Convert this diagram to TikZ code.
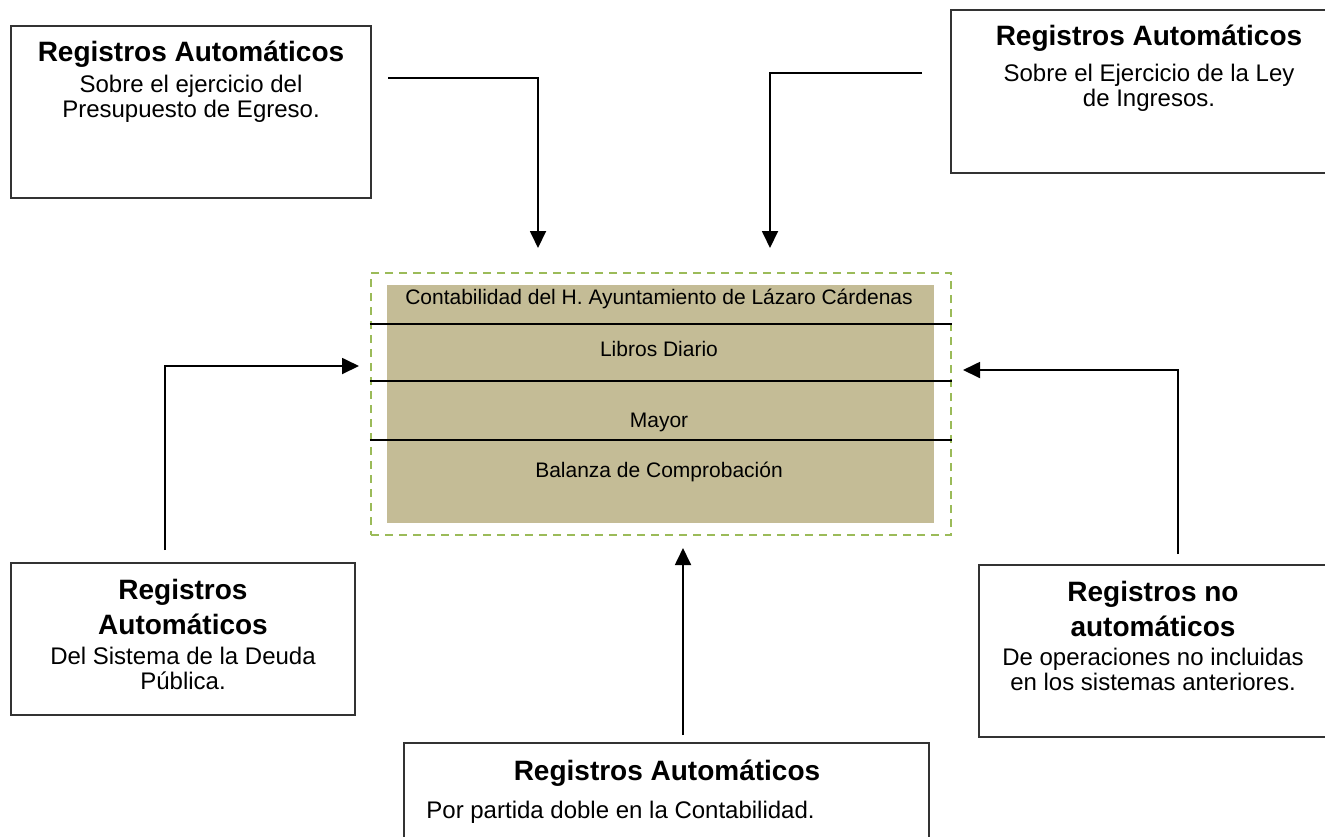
\documentclass[tikz,border=0pt]{standalone}
\usepackage{fontspec}
\setmainfont{Liberation Sans}
\usetikzlibrary{arrows.meta,positioning}
\definecolor{verdeMarco}{HTML}{9BBB59}
\definecolor{tanLibro}{HTML}{C4BC96}
\tikzset{
  caja/.style = {draw = black!80, line width = 0.75pt, inner sep = 0pt},
  texto/.style = {align = center, inner sep = 0pt, anchor = north, font = \fontsize{12}{12.5}\selectfont},
  titulo/.style = {font = \bfseries\fontsize{14}{16}\selectfont},
  interior/.style = {inner sep = 0pt, font = \fontsize{10.5}{12}\selectfont},
  flecha/.style = {line width = 0.9pt, -{Triangle[length = 8.5pt, width = 8pt]}},
  separa/.style = {line width = 1pt}
}
\begin{document}
\begin{tikzpicture}[x = 0.5pt, y = -0.5pt]
      \useasboundingbox (0, 0) rectangle (1325, 836);
      \clip (0, 0) rectangle (1325, 836);
      % bloque central
      \node[draw = verdeMarco, line width = 1.25pt, dash pattern = on 4pt off 3pt, minimum width = 290pt, minimum height = 131pt, inner sep = 0pt] (marco) at (661, 404) {};
      \node[fill = tanLibro, minimum width = 273.5pt, minimum height = 119pt, inner sep = 0pt] (libro) at (660.5, 404) {};
      \draw[separa] (marco.west |- 0, 324) -- (marco.east |- 0, 324);
      \draw[separa] (marco.west |- 0, 381) -- (marco.east |- 0, 381);
      \draw[separa] (marco.west |- 0, 440) -- (marco.east |- 0, 440);
      \node[interior] (conta) at (659, 299) {Contabilidad del H. Ayuntamiento de Lázaro Cárdenas};
      \node[interior] (diario) at (659, 349) {Libros Diario};
      \node[interior] (mayor) at (659, 422) {Mayor};
      \node[interior] (balanza) at (659, 472) {Balanza de Comprobación};
      % cajas
      \node[caja, minimum width = 180pt, minimum height = 86pt] (egreso) at (191, 112) {};
      \node[caja, minimum width = 198pt, minimum height = 81.5pt] (ingreso) at (1149, 91.5) {};
      \node[caja, minimum width = 172pt, minimum height = 76pt] (deuda) at (183, 639) {};
      \node[caja, minimum width = 174pt, minimum height = 86pt] (noauto) at (1153, 651) {};
      \node[caja, minimum width = 262.5pt, minimum height = 78.5pt] (partida) at (666.5, 821.5) {};
      \node[texto] (egresoT) at (191, 41) {{\bfseries\fontsize{14}{16}\selectfont Registros Automáticos}\\[3pt] Sobre el ejercicio del\\ Presupuesto de Egreso.};
      \node[texto] (ingresoT) at (1149, 25) {{\bfseries\fontsize{14}{16}\selectfont Registros Automáticos}\\[5.5pt] Sobre el Ejercicio de la Ley\\ de Ingresos.};
      \node[texto] (deudaT) at (183, 579) {{\bfseries\fontsize{14}{16}\selectfont Registros}\\[3pt] {\bfseries\fontsize{14}{16}\selectfont Automáticos}\\[2.5pt] Del Sistema de la Deuda\\ Pública.};
      \node[texto] (noautoT) at (1153, 581) {{\bfseries\fontsize{14}{16}\selectfont Registros no}\\[3pt] {\bfseries\fontsize{14}{16}\selectfont automáticos}\\[2pt] De operaciones no incluidas\\ en los sistemas anteriores.};
      \node[texto, titulo] (partidaT) at (667, 760) {Registros Automáticos};
      \node[texto, anchor = base west] (partidaB) at (426, 818) {Por partida doble en la Contabilidad.};
      % conectores
      \coordinate (e1) at (388, 78);
      \coordinate (e2) at (538, 248);
      \coordinate (i1) at (922, 73);
      \coordinate (i2) at (770, 248);
      \coordinate (d1) at (165, 550);
      \coordinate (d2) at (359, 366);
      \coordinate (n1) at (1178, 554);
      \coordinate (n2) at (963, 370);
      \coordinate (p1) at (683, 735);
      \coordinate (p2) at (683, 548);
      \draw[flecha] (e1) -| (e2);
      \draw[flecha] (i1) -| (i2);
      \draw[flecha] (d1) |- (d2);
      \draw[flecha] (n1) |- (n2);
      \draw[flecha] (p1) -- (p2);
    \end{tikzpicture}
\end{document}
